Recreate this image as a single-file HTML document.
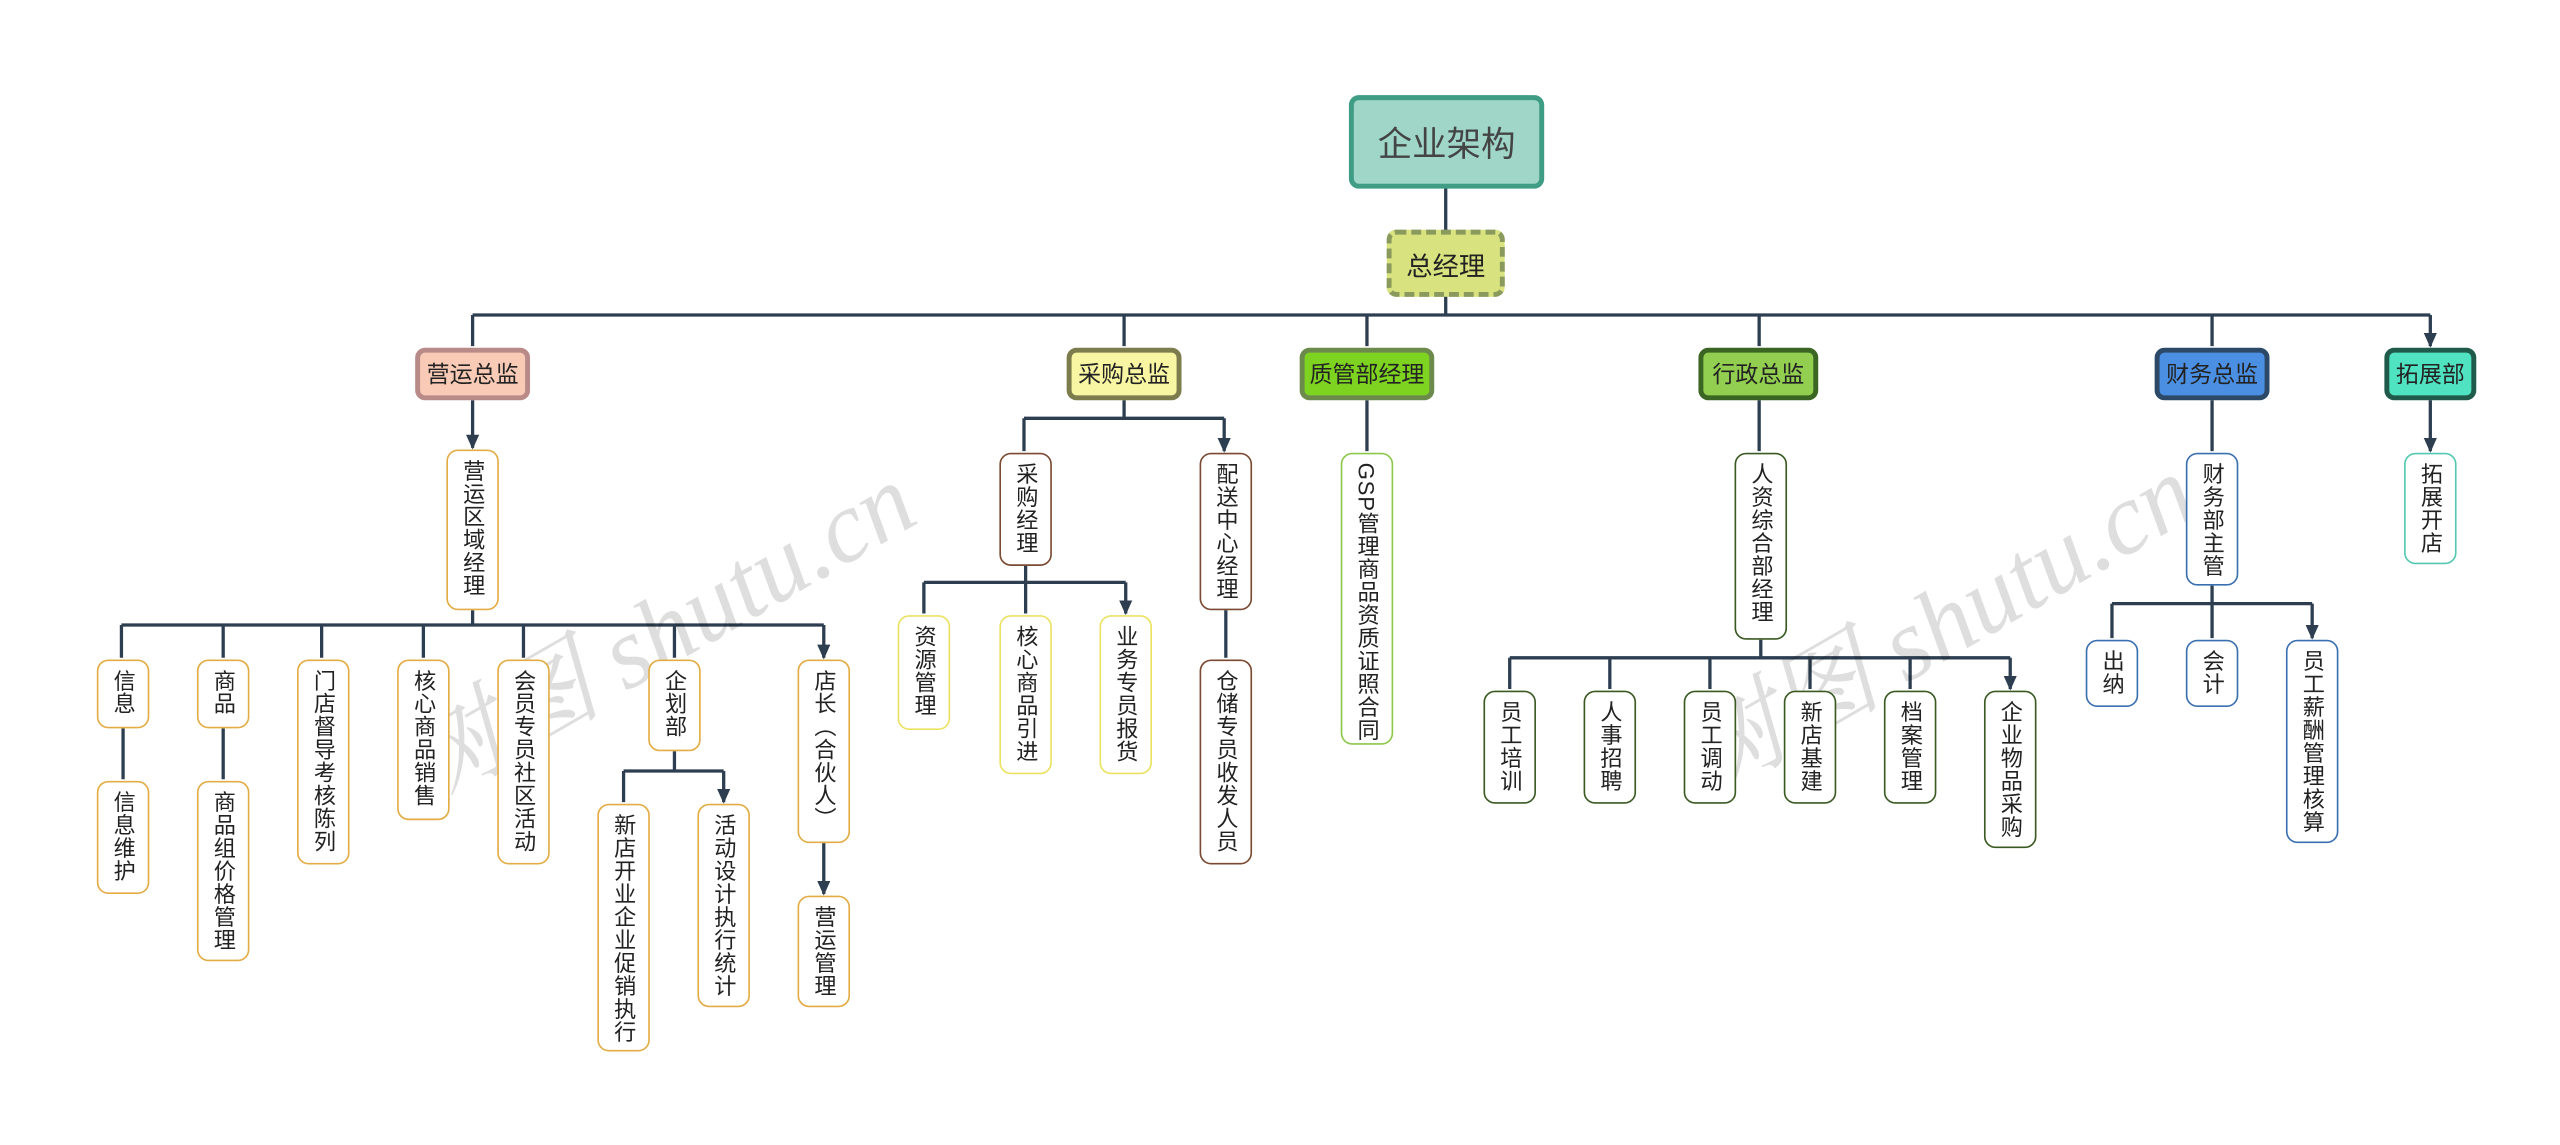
<!DOCTYPE html>
<html><head><meta charset="utf-8">
<style>
html,body{margin:0;padding:0;background:#fff;width:2560px;height:1145px;overflow:hidden}
#c{position:absolute;left:0;top:0;width:1560px;height:698px;transform:scale(1.641,1.6404);transform-origin:0 0;font-family:"Liberation Sans","Noto Sans CJK SC",sans-serif}
.b{position:absolute;box-sizing:border-box;border-radius:6px;display:flex;align-items:center;justify-content:center;font-size:14px;color:#222;border:3px solid}
.v{position:absolute;box-sizing:border-box;width:32px;border:1.3px solid;border-radius:7px;background:#fff;writing-mode:vertical-rl;font-size:13.5px;line-height:32px;padding-top:5px;color:#222;letter-spacing:0.5px}
.wm{position:absolute;color:rgba(0,0,0,0.13);font-family:"Liberation Serif","Noto Serif CJK SC",serif;font-style:italic;font-size:62px;transform:rotate(-30deg);transform-origin:0 0;white-space:nowrap}
.y{border-color:#e3ac45}
</style></head><body>
<div id="c">
<svg width="1560" height="698" style="position:absolute;left:0;top:0">
<defs><marker id="a" markerUnits="userSpaceOnUse" markerWidth="8" markerHeight="8" refX="4" refY="7" orient="auto-start-reverse" viewBox="0 0 8 8"><path d="M0,0 L8,0 L4,8 z" fill="#2c3e50" transform="rotate(0)"/></marker>
<marker id="d" markerUnits="userSpaceOnUse" markerWidth="9" markerHeight="9" refX="4.5" refY="8" viewBox="0 0 9 9"><path d="M0.5,0 L8.5,0 L4.5,9 z" fill="#2c3e50"/></marker></defs>
<g stroke="#2c3e50" stroke-width="2" fill="none">
<path d="M881 114V192M288 192H1481"/>
<path d="M288 192V211M685 192V211M833 192V211M1072 192V211M1348 192V211M1481 192V211" marker-end="url(#d)"/>
<path d="M288 244V273" marker-end="url(#d)"/>
<path d="M288 372V381M74 381H502"/>
<path d="M74 381V401M136 381V401M196 381V401M258 381V401M319 381V401M411 381V401M502 381V401" marker-end="url(#d)"/>
<path d="M75 444V475M136 444V475M502 514V545" marker-end="url(#d)"/>
<path d="M411 458V470M380 470H441"/>
<path d="M380 470V489M441 470V489" marker-end="url(#d)"/>
<path d="M685 244V255M624 255H746"/>
<path d="M624 255V275M746 255V275" marker-end="url(#d)"/>
<path d="M625 345V355M563 355H686"/>
<path d="M563 355V374M625 355V374M686 355V374" marker-end="url(#d)"/>
<path d="M747 372V401M833 244V275M1072 244V275M1348 244V275M1481 244V275" marker-end="url(#d)"/>
<path d="M1073 390V401M920 401H1225"/>
<path d="M920 401V420M981 401V420M1042 401V420M1103 401V420M1164 401V420M1225 401V420" marker-end="url(#d)"/>
<path d="M1348 357V368M1287 368H1409"/>
<path d="M1287 368V389M1348 368V389M1409 368V389" marker-end="url(#d)"/>
</g>
</svg>
<div class="wm" style="left:225px;top:430px">树图 shutu.cn</div>
<div class="wm" style="left:1005px;top:425px">树图 shutu.cn</div>

<div class="b" style="left:822px;top:58px;width:119px;height:57px;background:#9fd6c8;border-color:#3f9c85;font-size:21px;color:#444">企业架构</div>
<div class="b" style="left:845px;top:140px;width:72px;height:41px;background:#d8e27e;border:3px dashed #8a9a5c;font-size:16px">总经理</div>

<div class="b" style="left:253px;top:212px;width:70px;height:32px;background:#f9cbb6;border-color:#b88a88">营运总监</div>
<div class="b" style="left:650px;top:212px;width:70px;height:32px;background:#f8f6a2;border-color:#7d7c4c">采购总监</div>
<div class="b" style="left:792px;top:212px;width:82px;height:32px;background:#7ed321;border-color:#6b8a4c">质管部经理</div>
<div class="b" style="left:1035px;top:212px;width:73px;height:32px;background:#92cf50;border-color:#3a6522">行政总监</div>
<div class="b" style="left:1313px;top:212px;width:70px;height:32px;background:#4a8fe2;border-color:#2c4a68">财务总监</div>
<div class="b" style="left:1453px;top:212px;width:56px;height:32px;background:#50e3c2;border-color:#1f5a4a">拓展部</div>

<div class="v y" style="left:272px;top:274px;height:98px">营运区域经理</div>
<div class="v y" style="left:59px;top:402px;height:42px">信息</div>
<div class="v y" style="left:59px;top:476px;height:69px">信息维护</div>
<div class="v y" style="left:120px;top:402px;height:42px">商品</div>
<div class="v y" style="left:120px;top:476px;height:110px">商品组价格管理</div>
<div class="v y" style="left:181px;top:402px;height:125px">门店督导考核陈列</div>
<div class="v y" style="left:242px;top:402px;height:98px">核心商品销售</div>
<div class="v y" style="left:303px;top:402px;height:125px">会员专员社区活动</div>
<div class="v y" style="left:395px;top:402px;height:56px">企划部</div>
<div class="v y" style="left:364px;top:490px;height:151px">新店开业企业促销执行</div>
<div class="v y" style="left:425px;top:490px;height:124px">活动设计执行统计</div>
<div class="v y" style="left:486px;top:402px;height:112px">店长（合伙人）</div>
<div class="v y" style="left:486px;top:546px;height:68px">营运管理</div>

<div class="v" style="left:609px;top:276px;height:69px;border-color:#7a4a32">采购经理</div>
<div class="v" style="left:731px;top:276px;height:96px;border-color:#7a4a32">配送中心经理</div>
<div class="v" style="left:731px;top:402px;height:125px;border-color:#7a4a32">仓储专员收发人员</div>
<div class="v" style="left:547px;top:375px;height:70px;border-color:#ece262">资源管理</div>
<div class="v" style="left:609px;top:375px;height:97px;border-color:#ece262">核心商品引进</div>
<div class="v" style="left:670px;top:375px;height:97px;border-color:#ece262">业务专员报货</div>

<div class="v" style="left:817px;top:276px;height:178px;border-color:#8cc84a">GSP管理商品资质证照合同</div>

<div class="v" style="left:1057px;top:276px;height:114px;border-color:#3a5a22">人资综合部经理</div>
<div class="v" style="left:904px;top:421px;height:69px;border-color:#3a5a22">员工培训</div>
<div class="v" style="left:965px;top:421px;height:69px;border-color:#3a5a22">人事招聘</div>
<div class="v" style="left:1026px;top:421px;height:69px;border-color:#3a5a22">员工调动</div>
<div class="v" style="left:1087px;top:421px;height:69px;border-color:#3a5a22">新店基建</div>
<div class="v" style="left:1148px;top:421px;height:69px;border-color:#3a5a22">档案管理</div>
<div class="v" style="left:1209px;top:421px;height:96px;border-color:#3a5a22">企业物品采购</div>

<div class="v" style="left:1332px;top:276px;height:81px;border-color:#3a70b0">财务部主管</div>
<div class="v" style="left:1271px;top:390px;height:41px;border-color:#3a70b0">出纳</div>
<div class="v" style="left:1332px;top:390px;height:41px;border-color:#3a70b0">会计</div>
<div class="v" style="left:1393px;top:390px;height:124px;border-color:#3a70b0">员工薪酬管理核算</div>

<div class="v" style="left:1465px;top:276px;height:68px;border-color:#55c8b2">拓展开店</div>
</div>
</body></html>
